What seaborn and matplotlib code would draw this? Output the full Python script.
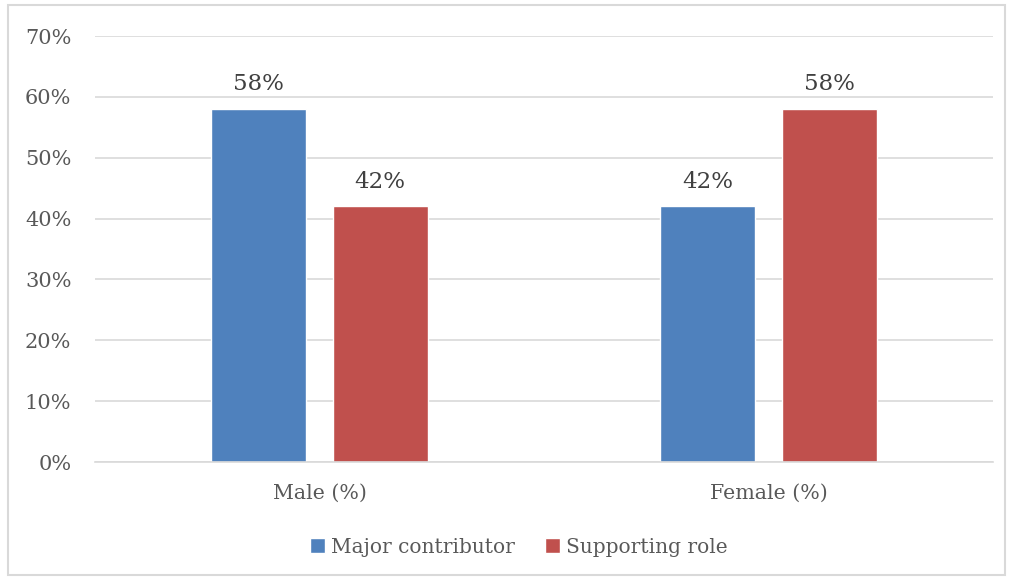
import matplotlib
matplotlib.use("Agg")
import matplotlib.pyplot as plt
from matplotlib.patches import Rectangle
import seaborn as sns
import pandas as pd

categories = ["Male (%)", "Female (%)"]
series_names = ["Major contributor", "Supporting role"]
major_contributor = [58, 42]
supporting_role = [42, 58]
y_ticks = [0, 10, 20, 30, 40, 50, 60, 70]
colors = ["#4F81BD", "#C0504D"]

df = pd.DataFrame({
    "category": categories * 2,
    "role": [series_names[0]] * 2 + [series_names[1]] * 2,
    "value": major_contributor + supporting_role,
})

sns.set_theme(style="white")
plt.rcParams["font.family"] = ["DejaVu Serif"]
text_color = "#595959"

W, H = 1010, 579
fig = plt.figure(figsize=(W / 100, H / 100), dpi=100)
ax = fig.add_axes([95 / W, 1 - 462 / H, (993 - 95) / W, (462 - 36) / H])

sns.barplot(data=df, x="category", y="value", hue="role", order=categories,
            hue_order=series_names, palette=colors, width=0.541, gap=0.218,
            saturation=1, ax=ax, legend=True)

ax.set_ylim(0, 70)
ax.set_xlim(-0.5, 1.5)
ax.set_yticks(y_ticks)
ax.set_yticklabels([f"{t}%" for t in y_ticks], fontsize=15, color=text_color)
ax.tick_params(axis="x", labelsize=14.8, labelcolor=text_color, length=0, pad=16)
ax.tick_params(axis="y", length=0, pad=17)
ax.set_xlabel("")
ax.set_ylabel("")
ax.yaxis.grid(True, color="#D9D9D9", linewidth=1.2)
ax.set_axisbelow(True)
for side in ["left", "right", "top"]:
    ax.spines[side].set_visible(False)
ax.spines["bottom"].set_color("#D9D9D9")
ax.spines["bottom"].set_linewidth(1.2)

for container in ax.containers:
    ax.bar_label(container, labels=[f"{v:.0f}%" for v in container.datavalues],
                 padding=10, fontsize=16.5, color="#404040")

handles, labels = ax.get_legend_handles_labels()
ax.legend(handles, labels, loc="center", bbox_to_anchor=(0.472, -0.2),
          ncol=2, frameon=False, fontsize=14.5, labelcolor=text_color,
          handlelength=0.75, handleheight=0.75, handletextpad=0.3,
          columnspacing=1.5)

fig.patches.append(Rectangle((8 / W, 4 / H), 997 / W, 570 / H,
                             transform=fig.transFigure, fill=False,
                             edgecolor="#D9D9D9", linewidth=1.5))

fig.savefig("out.png", dpi=100)
